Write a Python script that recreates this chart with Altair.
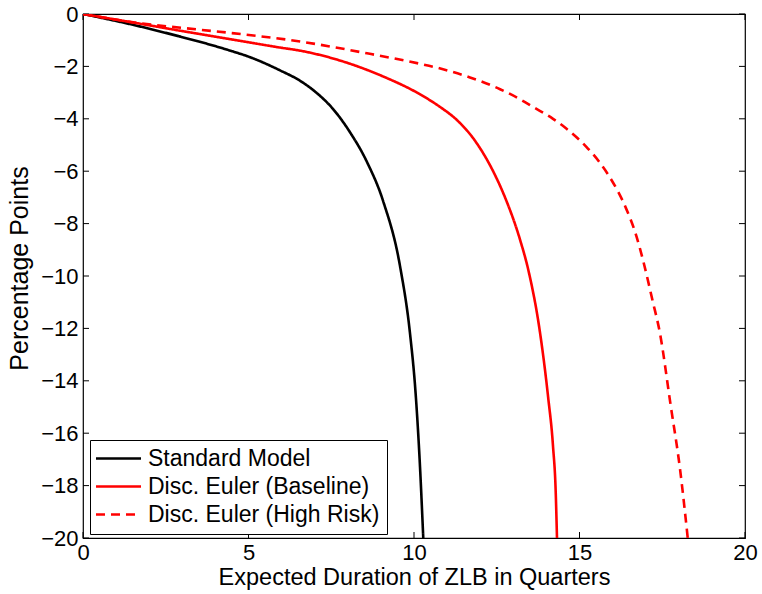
import altair as alt
import pandas as pd

# Standard Model
std_x = [0, 1.4, 2.9, 3.5, 4.4, 5.05, 5.95, 6.56, 7.0, 7.55, 8.07, 8.58, 9.07, 9.58, 9.88, 10.05, 10.17, 10.28]
std_y = [0, -0.38, -0.85, -1.05, -1.38, -1.65, -2.15, -2.55, -2.95, -3.62, -4.52, -5.65, -7.15, -9.64, -12.2, -14.5, -17.0, -20]

# Disc. Euler (Baseline)
base_x = [0, 1.4, 2.9, 4.4, 5.95, 6.56, 8.07, 9.06, 10.09, 10.79, 11.3, 11.85, 12.39, 12.75, 13.2, 13.45, 13.8, 14.05, 14.2, 14.28, 14.32]
base_y = [0, -0.3, -0.63, -0.95, -1.28, -1.4, -1.9, -2.38, -3.0, -3.55, -4.05, -4.85, -6.0, -7.0, -8.6, -9.75, -12.1, -14.6, -16.5, -18.2, -20]

# Disc. Euler (High Risk)
risk_x = [0, 1.42, 3.53, 4.44, 6.56, 8.58, 10.18, 10.6, 11.69, 12.6, 13.2, 13.6, 14.2, 14.6, 15.2, 15.6, 15.9, 16.4, 16.7, 16.95, 17.2, 17.43, 17.75, 18.04, 18.27]
risk_y = [0, -0.3, -0.6, -0.72, -1.05, -1.5, -1.9, -2.02, -2.42, -2.87, -3.25, -3.55, -4.0, -4.37, -5.06, -5.65, -6.2, -7.4, -8.4, -9.55, -10.9, -12.18, -14.9, -17.4, -20]

series_names = ["Standard Model", "Disc. Euler (Baseline)", "Disc. Euler (High Risk)"]
series_colors = ["#000000", "#ff0000", "#ff0000"]
series_dash = [[1, 0], [1, 0], [9, 6]]

x_ticks = [0, 5, 10, 15, 20]
y_ticks = [0, -2, -4, -6, -8, -10, -12, -14, -16, -18, -20]

rows = []
for name, xs, ys in zip(series_names, [std_x, base_x, risk_x], [std_y, base_y, risk_y]):
    for i, (a, b) in enumerate(zip(xs, ys)):
        rows.append({"series": name, "x": a, "y": b, "order": i})
df = pd.DataFrame(rows)

W, H = 662, 524
FONT = "Liberation Sans"
FS = 22

xscale = alt.Scale(domain=[0, 20], nice=False)
yscale = alt.Scale(domain=[-20, 0], nice=False)

legend_kw = dict(title=None, orient="none", legendX=7, legendY=426,
                 symbolType="M-3,0H3", symbolSize=225, symbolOffset=10,
                 symbolStrokeWidth=2.6, labelFontSize=23,
                 labelFont=FONT, labelColor="black",
                 strokeColor="black", fillColor="white",
                 padding=7, rowPadding=4, labelOffset=18,
                 labelLimit=400)

lines = alt.Chart(df).mark_line(strokeWidth=2.6, clip=True, interpolate="monotone").encode(
    x=alt.X("x:Q", scale=xscale,
            axis=alt.Axis(values=x_ticks, title="Expected Duration of ZLB in Quarters",
                          ticks=False, domain=False, grid=False, labelPadding=4,
                          labelFlush=False, titlePadding=2, titleFontSize=23.5)),
    y=alt.Y("y:Q", scale=yscale,
            axis=alt.Axis(values=y_ticks, title="Percentage Points",
                          ticks=False, domain=False, grid=False, labelPadding=5,
                          labelFlush=False, titlePadding=8, titleFontSize=25,
                          titleY=254)),
    color=alt.Color("series:N",
                    scale=alt.Scale(domain=series_names, range=series_colors),
                    legend=alt.Legend(**legend_kw)),
    strokeDash=alt.StrokeDash("series:N",
                              scale=alt.Scale(domain=series_names, range=series_dash),
                              legend=alt.Legend(**legend_kw)),
    order="order:Q",
)

xt = pd.DataFrame({"t": x_ticks})
yt = pd.DataFrame({"t": y_ticks})
tick_style = dict(color="black", strokeWidth=1)
xb = alt.Chart(xt).mark_rule(**tick_style).encode(
    x=alt.X("t:Q", scale=xscale), y=alt.value(H), y2=alt.value(H - 6))
xtop = alt.Chart(xt).mark_rule(**tick_style).encode(
    x=alt.X("t:Q", scale=xscale), y=alt.value(0), y2=alt.value(6))
yl = alt.Chart(yt).mark_rule(**tick_style).encode(
    y=alt.Y("t:Q", scale=yscale), x=alt.value(0), x2=alt.value(6))
yr = alt.Chart(yt).mark_rule(**tick_style).encode(
    y=alt.Y("t:Q", scale=yscale), x=alt.value(W), x2=alt.value(W - 6))

chart = alt.layer(xb, xtop, yl, yr, lines).properties(
    width=W, height=H,
    padding={"left": 83, "top": 14, "right": 17, "bottom": 56},
    autosize=alt.AutoSizeParams(type="none"),
    background="white",
).configure_view(
    stroke="black", strokeWidth=1.2
).configure_axis(
    labelFont=FONT, labelFontSize=FS, labelColor="black",
    titleFont=FONT, titleColor="black", titleFontWeight="normal",
)

chart.save("out.html", embed_options={"renderer": "svg", "actions": False})
